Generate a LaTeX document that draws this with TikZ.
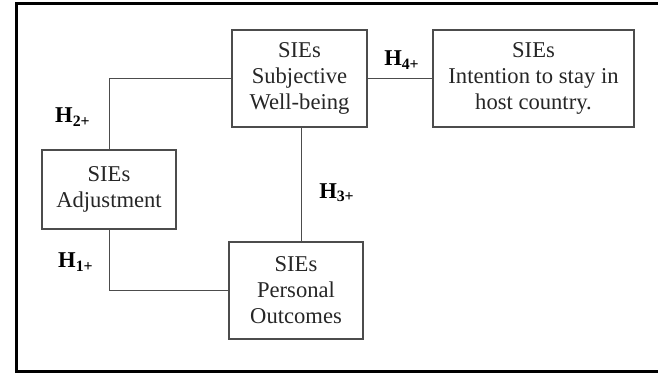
\documentclass[tikz,border=0pt]{standalone}
\usepackage{fontspec}
\setmainfont{Liberation Serif}
\begin{document}
\begin{tikzpicture}[x=0.5pt,y=-0.5pt,
  box/.style={draw=black!70,line width=0.6pt,rectangle,align=center,inner sep=0pt,
    font=\fontsize{11.3}{13}\selectfont,text=black!85},
  link/.style={draw=black!70,line width=0.5pt},
  hyp/.style={font=\fontsize{11.3}{13}\selectfont\bfseries,inner sep=0pt}]
\useasboundingbox (0,0) rectangle (658,374);
\draw[line width=1.5pt] (720,4) -- (16,4) -- (16,371) -- (720,371);
\node[box,minimum width=67.5pt,minimum height=48.5pt] (W) at (299.5,78.5) {SIEs\\Subjective\\Well-being};
\node[box,minimum width=100.5pt,minimum height=48.5pt] (I) at (533.5,78.5) {SIEs\\Intention to stay in\\host country.};
\node[box,minimum width=67pt,minimum height=39.5pt] (A) at (109,189.5) {SIEs\\Adjustment};
\node[box,minimum width=67pt,minimum height=48.5pt] (P) at (296,290.5) {SIEs\\Personal\\Outcomes};
\draw[link] (W.west) -| (A.north);
\draw[link] (W.east) -- (I.west);
\draw[link] ([xshift=1pt]W.south) -- ([xshift=1pt]W.south |- P.north);
\draw[link] (A.south) |- (P.west);
\node[hyp] (h2) at (73,117) {H\textsubscript{2+}};
\node[hyp] (h4) at (402,60) {H\textsubscript{4+}};
\node[hyp] (h3) at (337,193) {H\textsubscript{3+}};
\node[hyp] (h1) at (76,262) {H\textsubscript{1+}};
\end{tikzpicture}
\end{document}
